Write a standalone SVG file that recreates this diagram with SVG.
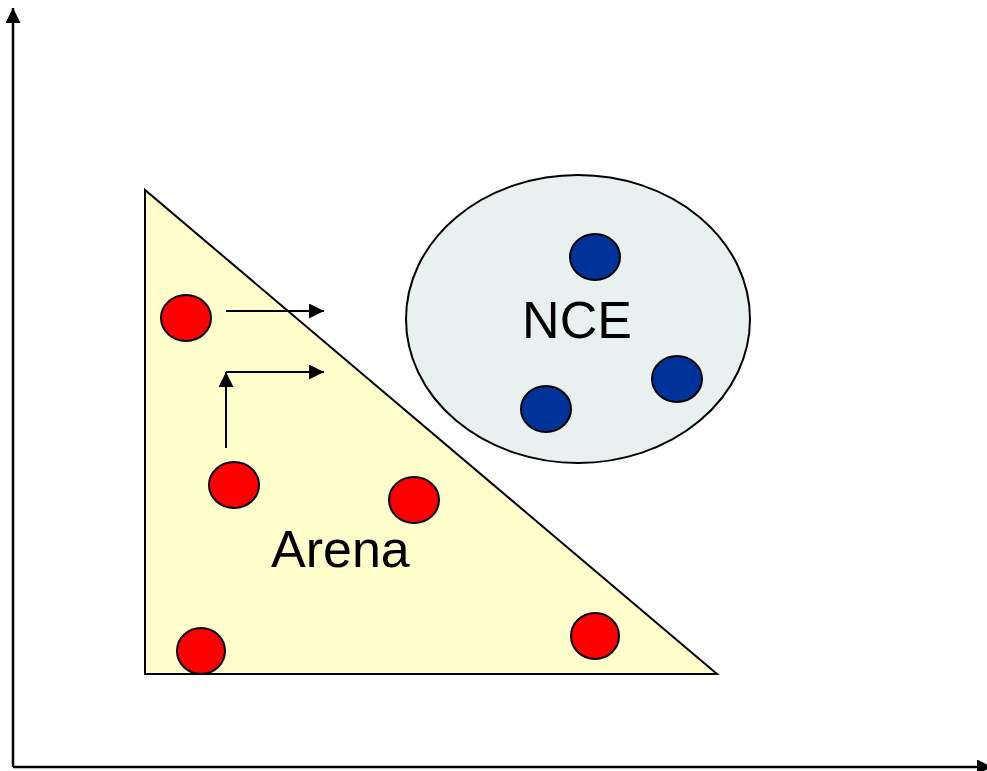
<svg xmlns="http://www.w3.org/2000/svg" width="987" height="771" viewBox="0 0 987 771">
<style>
.red{fill:#FF0000;stroke:#000;stroke-width:2}
.blue{fill:#003399;stroke:#000;stroke-width:2}
.lbl{font-family:"Liberation Sans",Arial,sans-serif;font-size:52px;fill:#000}
.ln{stroke:#000;stroke-width:2;fill:none}
.ax{stroke:#000;stroke-width:2.5;fill:none}
</style>
<defs>
<marker id="ah" viewBox="0 0 10 10" refX="10" refY="5" markerUnits="userSpaceOnUse" markerWidth="17" markerHeight="15" orient="auto">
<path d="M0,0 L10,5 L0,10 z" fill="#000"/>
</marker>
</defs>
<rect width="987" height="771" fill="#fff"/>
<g id="axes">
<line class="ax" x1="13" y1="767" x2="13" y2="8" marker-end="url(#ah)"/>
<line class="ax" x1="13" y1="767" x2="992" y2="767" marker-end="url(#ah)"/>
</g>
<g id="arena">
<polygon points="145,190 145,674 717,674" fill="#FFFFCC" stroke="#000" stroke-width="2"/>
<text class="lbl" x="271" y="567">Arena</text>
</g>
<g id="nce">
<ellipse cx="578" cy="319" rx="172" ry="144" fill="#E8F0F0" stroke="#000" stroke-width="2"/>
<text class="lbl" x="577" y="338" text-anchor="middle">NCE</text>
</g>
<g id="red-points">
<ellipse class="red" cx="186" cy="318" rx="25" ry="23"/>
<ellipse class="red" cx="234" cy="485" rx="25" ry="23"/>
<ellipse class="red" cx="414" cy="500" rx="25" ry="23"/>
<ellipse class="red" cx="201" cy="651" rx="24" ry="23"/>
<ellipse class="red" cx="595" cy="636" rx="24" ry="23"/>
</g>
<g id="blue-points">
<ellipse class="blue" cx="595" cy="257" rx="25" ry="23"/>
<ellipse class="blue" cx="677" cy="379" rx="25" ry="23"/>
<ellipse class="blue" cx="546" cy="409" rx="25" ry="23"/>
</g>
<g id="connectors">
<line class="ln" x1="226" y1="311" x2="324" y2="311" marker-end="url(#ah)"/>
<line class="ln" x1="226" y1="448" x2="226" y2="372" marker-end="url(#ah)"/>
<line class="ln" x1="226" y1="372" x2="324" y2="372" marker-end="url(#ah)"/>
</g>
</svg>
